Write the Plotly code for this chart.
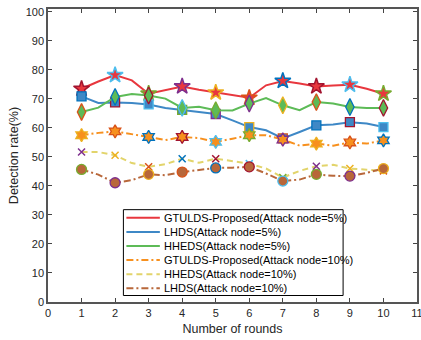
import plotly.graph_objects as go

# ---------------- data ----------------
rounds = [1, 2, 3, 4, 5, 6, 7, 8, 9, 10]
x_fine = [1, 1.5, 2, 2.5, 3, 3.5, 4, 4.5, 5, 5.5, 6, 6.5, 7, 7.5, 8, 8.5, 9, 9.5, 10]

series_names = [
    "GTULDS-Proposed(Attack node=5%)",
    "LHDS(Attack node=5%)",
    "HHEDS(Attack node=5%)",
    "GTULDS-Proposed(Attack node=10%)",
    "HHEDS(Attack node=10%)",
    "LHDS(Attack node=10%)",
]

gtulds_5 = [73.5, 76.0, 78.2, 76.4, 71.8, 73.0, 74.3, 73.2, 72.2, 71.2, 70.4, 74.7, 76.2, 75.3, 74.3, 74.6, 74.9, 73.5, 71.8]
lhds_5 = [70.9, 68.6, 68.8, 68.6, 68.1, 66.9, 66.2, 65.5, 64.8, 62.6, 60.3, 59.2, 56.4, 58.6, 60.9, 61.2, 62.0, 61.5, 60.3]
hheds_5 = [65.5, 67.0, 70.7, 71.7, 71.2, 70.1, 66.9, 67.3, 66.1, 66.0, 68.4, 70.3, 67.8, 66.1, 68.9, 68.4, 67.2, 66.9, 66.9]
gtulds_10 = [57.5, 58.3, 58.8, 57.9, 56.9, 55.8, 56.9, 56.5, 55.2, 56.3, 57.5, 57.5, 56.0, 53.9, 54.6, 53.9, 55.0, 54.6, 55.7]
hheds_10 = [51.7, 51.7, 50.6, 47.9, 46.6, 47.5, 49.4, 48.0, 49.4, 48.6, 47.7, 46.0, 42.9, 45.2, 46.8, 47.3, 46.0, 45.6, 45.2]
lhds_10 = [45.7, 43.9, 41.1, 42.0, 44.0, 43.7, 44.8, 45.4, 46.2, 46.3, 46.6, 44.3, 41.7, 42.2, 44.0, 43.5, 43.4, 44.5, 46.0]

x_ticks = [0, 1, 2, 3, 4, 5, 6, 7, 8, 9, 10, 11]
y_ticks = [0, 10, 20, 30, 40, 50, 60, 70, 80, 90, 100]

# ---------------- styles ----------------
B, O, Y, P, G, L, R = "#0072BD", "#D95319", "#EDB120", "#7E2F8E", "#77AC30", "#4DBEEE", "#A2142F"

styles = [
    dict(color="#E8373E", dash="solid", symbol="star", size=12, edge=[R, L, G, P, Y, O, B, R, L, G], ew=1.5),
    dict(color="#3E88C6", dash="solid", symbol="square", size=9, edge=[B, R, L, G, P, Y, O, B, R, L], ew=1.3),
    dict(color="#5DBB57", dash="solid", symbol="diamond-tall", size=12, edge=[O, B, R, L, G, P, Y, O, B, R], ew=1.3),
    dict(color="#F7901E", dash="7px,3px,2px,3px", symbol="hexagram", size=10, edge=[Y, O, B, R, L, G, P, Y, O, B], ew=1.3),
    dict(color="#E2D46B", dash="6px,4px", symbol="x-thin", size=7, edge=[P, Y, O, B, R, L, G, P, Y, O], ew=1.5),
    dict(color="#B8673A", dash="7px,3px,2px,3px", symbol="circle", size=10, edge=[G, P, Y, O, B, R, L, G, P, Y], ew=1.3),
]

all_series = [gtulds_5, lhds_5, hheds_5, gtulds_10, hheds_10, lhds_10]

FONT = "Liberation Sans, Arial, sans-serif"

fig = go.Figure()
for name, vals, st in zip(series_names, all_series, styles):
    fig.add_trace(go.Scatter(
        x=x_fine, y=vals, mode="lines", name=name, showlegend=False,
        line=dict(color=st["color"], width=2, dash=st["dash"]),
        hoverinfo="skip",
    ))
    mvals = vals[::2]
    if st["symbol"] == "x-thin":
        marker = dict(symbol=st["symbol"], size=st["size"], color=st["edge"],
                      line=dict(color=st["edge"], width=st["ew"]))
    else:
        marker = dict(symbol=st["symbol"], size=st["size"], color=st["color"],
                      line=dict(color=st["edge"], width=st["ew"]))
    fig.add_trace(go.Scatter(
        x=rounds, y=mvals, mode="markers", name=name, showlegend=False, marker=marker,
    ))

# ---------------- manual legend (MATLAB style box) ----------------
PX_L, PX_R, PX_T, PX_B = 47.5, 417.0, 8.5, 302.0
W, H = PX_R - PX_L, PX_B - PX_T


def px_x(px):
    return (px - PX_L) / W


def px_y(py):
    return (PX_B - py) / H


fig.add_shape(type="rect", xref="paper", yref="paper",
              x0=px_x(123), x1=px_x(343), y0=px_y(295.5), y1=px_y(209.5),
              line=dict(color="#000000", width=1), fillcolor="white", layer="above")
for i, (name, st) in enumerate(zip(series_names, styles)):
    py = 217.7 + i * 14.1
    fig.add_shape(type="line", xref="paper", yref="paper",
                  x0=px_x(126), x1=px_x(159.5), y0=px_y(py), y1=px_y(py),
                  line=dict(color=st["color"], width=2, dash=st["dash"]), layer="above")
    fig.add_annotation(xref="paper", yref="paper", x=px_x(161.5), y=px_y(py),
                       text=name, showarrow=False, xanchor="left", yanchor="middle",
                       font=dict(family=FONT, size=11, color="#000000"))

axis_common = dict(
    showline=True, linecolor="#555555", linewidth=1.5, mirror="ticks",
    ticks="inside", ticklen=4, tickwidth=1.2, tickcolor="#444444",
    showgrid=False, zeroline=False, automargin=False,
    tickfont=dict(family=FONT, size=11, color="#262626"),
)

fig.update_xaxes(range=[0, 11], tickvals=x_ticks, ticktext=[str(t) for t in x_ticks],
                 ticklabeloverflow="allow",
                 title=dict(text="Number of rounds", standoff=6,
                            font=dict(family=FONT, size=12.5, color="#262626")),
                 **axis_common)
fig.update_yaxes(range=[0, 101], tickvals=y_ticks, ticktext=[str(t) for t in y_ticks],
                 title=dict(text="Detection rate(%)", standoff=4,
                            font=dict(family=FONT, size=12.5, color="#262626")),
                 **axis_common)

fig.update_layout(
    width=421, height=340, autosize=False,
    margin=dict(l=PX_L, r=421 - PX_R, t=PX_T, b=340 - PX_B),
    plot_bgcolor="white", paper_bgcolor="white",
    showlegend=False,
)

fig.write_html("out.html", config={"displayModeBar": False})

# remove the browser's default 8px page margin so the figure sits at the top-left corner
with open("out.html", "r", encoding="utf-8") as f:
    html = f.read()
html = html.replace("<head>", "<head><style>html,body{margin:0;padding:0;overflow:hidden;}</style>", 1)
with open("out.html", "w", encoding="utf-8") as f:
    f.write(html)
